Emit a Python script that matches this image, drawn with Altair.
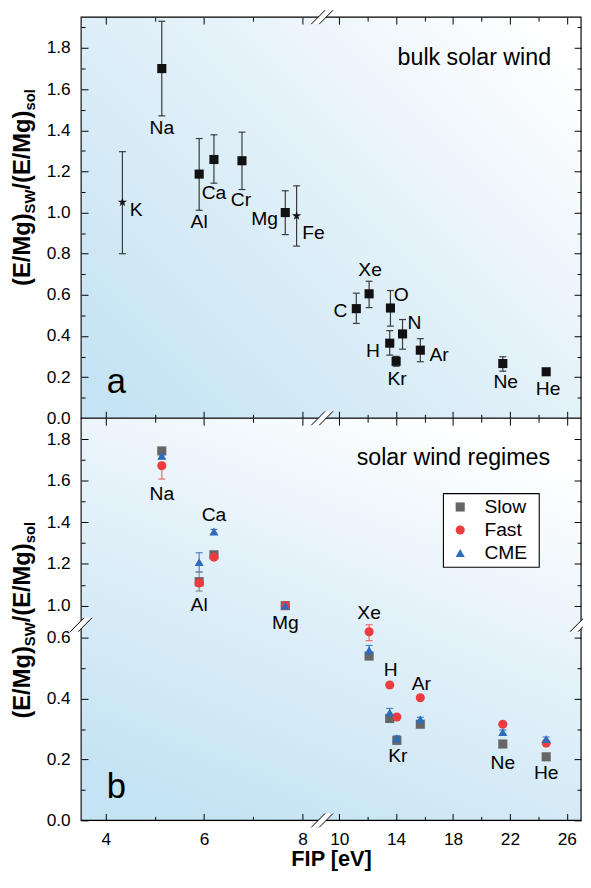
import altair as alt
import pandas as pd

FONT = "Liberation Sans"

# ---------------- panel a: bulk solar wind ----------------
A_ELEMENT = ["K", "Na", "Al", "Ca", "Cr", "Mg", "Fe", "C", "Xe", "O", "H", "Kr", "N", "Ar", "Ne", "He"]
A_FIP = [4.34, 5.14, 5.90, 6.20, 6.77, 7.65, 7.88, 11.20, 12.10, 13.60, 13.55, 14.00, 14.45, 15.70, 21.50, 24.55]
A_RATIO = [1.050, 1.700, 1.187, 1.258, 1.252, 1.000, 0.984, 0.533, 0.605, 0.536, 0.365, 0.277, 0.410, 0.331, 0.266, 0.226]
A_LOW = [0.800, 1.470, 1.011, 1.143, 1.112, 0.893, 0.837, 0.461, 0.538, 0.448, 0.307, 0.253, 0.336, 0.275, 0.229, 0.226]
A_HIGH = [1.296, 1.930, 1.360, 1.378, 1.391, 1.106, 1.130, 0.608, 0.666, 0.621, 0.426, 0.301, 0.480, 0.387, 0.299, 0.226]
A_STAR = ["K", "Fe"]

# ---------------- panel b: solar wind regimes ----------------
B_ELEMENT = ["Na", "Al", "Ca", "Mg", "Xe", "H", "Kr", "Ar", "Ne", "He"]
B_FIP = [5.14, 5.90, 6.20, 7.65, 12.10, 13.55, 14.05, 15.70, 21.50, 24.55]
REGIMES = ["Slow", "Fast", "CME"]
SLOW = [1.743, 1.115, 1.244, 1.000, 0.540, 0.335, 0.263, 0.316, 0.251, 0.209]
SLOW_LOW = [1.728, 1.070, 1.233, 0.990, 0.530, 0.326, 0.256, 0.309, 0.245, 0.203]
SLOW_HIGH = [1.758, 1.160, 1.256, 1.010, 0.550, 0.344, 0.270, 0.323, 0.257, 0.215]
FAST = [1.672, 1.109, 1.233, 1.000, 0.620, 0.445, 0.340, 0.403, 0.316, 0.254]
FAST_LOW = [1.608, 1.093, 1.222, 0.990, 0.591, 0.440, 0.335, 0.398, 0.311, 0.249]
FAST_HIGH = [1.685, 1.131, 1.244, 1.010, 0.643, 0.450, 0.345, 0.408, 0.321, 0.259]
CME = [1.720, 1.209, 1.356, 1.000, 0.559, 0.354, 0.270, 0.332, 0.290, 0.267]
CME_LOW = [1.705, 1.162, 1.346, 0.990, 0.545, 0.345, 0.262, 0.325, 0.283, 0.260]
CME_HIGH = [1.735, 1.254, 1.366, 1.010, 0.575, 0.368, 0.278, 0.339, 0.297, 0.274]

# ---------------- axes ----------------
X_TICKS = [4, 5, 6, 7, 8, 10, 12, 14, 16, 18, 20, 22, 24, 26]
YA_TICKS = [0.0, 0.1, 0.2, 0.3, 0.4, 0.5, 0.6, 0.7, 0.8, 0.9, 1.0,
            1.1, 1.2, 1.3, 1.4, 1.5, 1.6, 1.7, 1.8, 1.9]
YB_TICKS = [0.0, 0.1, 0.2, 0.3, 0.4, 0.5, 0.6,
            1.0, 1.1, 1.2, 1.3, 1.4, 1.5, 1.6, 1.7, 1.8]
X_MINOR_TEST = "indexof([5,7,12,16,20,24], datum.value) >= 0"
Y_MINOR_TEST = "round(datum.value*10) % 2 == 1"
X_LABEL_EXPR = X_MINOR_TEST + " ? '' : datum.label"
Y_LABEL_EXPR = Y_MINOR_TEST + " ? '' : format(datum.value, '.1f')"

# label offsets in pixels (layout only)
LABEL_A = {"K": (14, 8), "Na": (0, 60), "Al": (0, 49), "Ca": (0, 34), "Cr": (-1, 40),
           "Mg": (-21, 7), "Fe": (17, 17), "C": (-16, 2), "Xe": (1, -24), "O": (11, -13),
           "H": (-17, 8), "Kr": (1, 18), "N": (12, -11), "Ar": (19, 5), "Ne": (3, 19), "He": (2, 18)}
LABEL_B = {"Na": (0, 44), "Al": (0, 24), "Ca": (0, -40), "Mg": (0, 18), "Xe": (0, -44),
           "H": (1, -49), "Kr": (1, 16), "Ar": (1, -41), "Ne": (0, 19), "He": (0, 16)}

W = 506
HA = 406
HB = 407
X_SCALE = alt.Scale(domain=[3.5, 8.4, 8.8, 27.0], range=[0, 244, 244, W], nice=False, zero=False)
YA_SCALE = alt.Scale(domain=[0, 1.95], nice=False, zero=False)
YB_SCALE = alt.Scale(domain=[0, 0.643, 0.908, 1.90], range=[HB, 209, 209, 0], nice=False, zero=False)

BREAK_FIP = 8.6
BREAK_RATIO = 0.8

REGIME_COLORS = ["#666666", "#ee3b3f", "#2d6cbd"]
REGIME_SHAPES = ["square", "circle", "triangle-up"]
ERR_COLORS = ["#8a8a8a", "#f06a6a", "#4a80c8"]
STAR = "M0,-1L0.225,-0.309L0.951,-0.309L0.363,0.118L0.588,0.809L0,0.382L-0.588,0.809L-0.363,0.118L-0.951,-0.309L-0.225,-0.309Z"
SLASH = "M-1,0.64L0.27,-0.64M-0.27,0.64L1,-0.64"
GAP = "M-1,0.64L0.27,-0.64L1,-0.64L-0.27,0.64Z"

ONE = pd.DataFrame({"k": [0]})


def make_axis(orient, values, minor_test, labels, label_expr=None, title=None, label_pad=18):
    kw = dict(orient=orient, values=values, labels=labels, title=title, grid=False, domain=False,
              ticks=True, tickColor="black", tickWidth=1, tickSize=alt.ExprRef(expr="-7"),
              tickDash={"condition": {"test": minor_test, "value": [4, 40]}, "value": [40, 0]},
              zindex=1, minExtent=0)
    if labels:
        kw.update(labelExpr=label_expr, labelFont=FONT, labelFontSize=17.5, labelColor="black",
                  labelPadding=label_pad, labelFlush=False, labelOverlap=False, labelBound=False)
    if title:
        kw.update(titleFont=FONT, titleFontSize=22, titleFontWeight="bold", titleColor="black",
                  titlePadding=1)
    return alt.Axis(**kw)


def gradient(x1, y1, x2, y2):
    return alt.LinearGradient(
        gradient="linear",
        stops=[alt.GradientStop(offset=0, color="#c4e3f3"),
               alt.GradientStop(offset=0.55, color="#e3f1f9"),
               alt.GradientStop(offset=1, color="#ffffff")],
        x1=x1, y1=y1, x2=x2, y2=y2)


def box(fill, x, x2, y, y2):
    return alt.Chart(ONE).mark_rect(fill=fill, stroke="black", strokeWidth=1.1).encode(
        x=alt.value(x), x2=alt.value(x2), y=alt.value(y), y2=alt.value(y2))


def breaks(df, yscale):
    enc = dict(x=alt.X("bx:Q", scale=X_SCALE, axis=None), y=alt.Y("by:Q", scale=yscale, axis=None))
    gap = alt.Chart(df).mark_point(shape=GAP, size=484, filled=True, fill="white",
                                   strokeWidth=0, opacity=1).encode(**enc)
    slash = alt.Chart(df).mark_point(shape=SLASH, size=484, filled=False, stroke="black",
                                     strokeWidth=1, opacity=1).encode(**enc)
    return [gap, slash]


def y_title(y0):
    parts = [("(E/Mg)", 24, -52, 3.055), ("SW", 15, -47, 1.611),
             ("/(E/Mg)", 24, -52, 3.333), ("sol", 15, -47, 1.445)]
    layers = []
    y = y0
    for text, size, xb, em in parts:
        layers.append(alt.Chart(ONE).mark_text(
            text=text, font=FONT, fontSize=size, fontWeight="bold", angle=270, align="left",
            baseline="alphabetic", color="black").encode(x=alt.value(xb), y=alt.value(y)))
        y -= em * size
    return layers


def deco_text(text, x, y, size, align, baseline="alphabetic"):
    return alt.Chart(ONE).mark_text(text=text, font=FONT, fontSize=size, align=align,
                                    baseline=baseline, color="black").encode(
        x=alt.value(x), y=alt.value(y))


def legend_layers(x0, y0):
    layers = [box("white", x0, x0 + 97, y0, y0 + 74.5)]
    for i, (reg, col, shp) in enumerate(zip(REGIMES, REGIME_COLORS, REGIME_SHAPES)):
        yy = y0 + 13.5 + i * 23.3
        layers.append(alt.Chart(ONE).mark_point(shape=shp, filled=True, size=85, color=col, opacity=1)
                      .encode(x=alt.value(x0 + 17), y=alt.value(yy)))
        layers.append(deco_text(reg, x0 + 41.5, yy, 19.5, "left", "middle"))
    return layers


# ================= panel a =================
df_a = pd.DataFrame({"element": A_ELEMENT, "fip": A_FIP, "ratio": A_RATIO,
                     "low": A_LOW, "high": A_HIGH})
df_a["star"] = df_a["element"].isin(A_STAR)
base_a = alt.Chart(df_a)
xa_none = alt.X("fip:Q", scale=X_SCALE, axis=None)

rules_a = base_a.mark_rule(color="#3a3a3a", strokeWidth=1.2).encode(
    x=alt.X("fip:Q", scale=X_SCALE, axis=make_axis("top", X_TICKS, X_MINOR_TEST, False)),
    y=alt.Y("low:Q", scale=YA_SCALE, axis=make_axis("right", YA_TICKS, Y_MINOR_TEST, False)),
    y2="high:Q")
cap_lo_a = base_a.mark_tick(orient="horizontal", size=7, thickness=1.2, color="#3a3a3a", opacity=1).encode(
    x=xa_none, y=alt.Y("low:Q", scale=YA_SCALE, axis=None))
cap_hi_a = base_a.mark_tick(orient="horizontal", size=7, thickness=1.2, color="#3a3a3a", opacity=1).encode(
    x=xa_none, y=alt.Y("high:Q", scale=YA_SCALE, axis=None))
squares_a = base_a.transform_filter("!datum.star").mark_point(
    shape="square", filled=True, size=85, color="#111111", opacity=1).encode(
    x=alt.X("fip:Q", scale=X_SCALE, axis=make_axis("bottom", X_TICKS, X_MINOR_TEST, False)),
    y=alt.Y("ratio:Q", scale=YA_SCALE,
            axis=make_axis("left", YA_TICKS, Y_MINOR_TEST, True, Y_LABEL_EXPR)))
stars_a = base_a.transform_filter("datum.star").mark_point(
    shape=STAR, filled=True, size=95, color="#111111", opacity=1).encode(
    x=xa_none, y=alt.Y("ratio:Q", scale=YA_SCALE, axis=None))
labels_a = [
    base_a.transform_filter(alt.datum.element == el).mark_text(
        dx=dx, dy=dy, font=FONT, fontSize=19.5, color="black", align="center", baseline="middle").encode(
        x=xa_none, y=alt.Y("ratio:Q", scale=YA_SCALE, axis=None), text="element:N")
    for el, (dx, dy) in LABEL_A.items()
]
breaks_a = breaks(pd.DataFrame({"bx": [BREAK_FIP], "by": [1.95]}), YA_SCALE)

panel_a = alt.layer(
    box(gradient(0, 0.9, 1, 0.1), 0, "width", 0, "height"), *breaks_a, rules_a, cap_lo_a, cap_hi_a,
    squares_a, stars_a, *labels_a,
    deco_text("bulk solar wind", 475.7, 48.3, 23.5, "right"),
    deco_text("a", 35.7, 380, 35, "center"),
    *y_title(272),
).resolve_axis(x="independent", y="independent").properties(width=W, height=HA)

# ================= panel b =================
rows = []
for reg, vals, lows, highs in [("Slow", SLOW, SLOW_LOW, SLOW_HIGH),
                               ("Fast", FAST, FAST_LOW, FAST_HIGH),
                               ("CME", CME, CME_LOW, CME_HIGH)]:
    for el, f, v, lo, hi in zip(B_ELEMENT, B_FIP, vals, lows, highs):
        rows.append({"element": el, "fip": f, "regime": reg, "ratio": v, "low": lo, "high": hi})
df_b = pd.DataFrame(rows)
base_b = alt.Chart(df_b)
err_scale = alt.Scale(domain=REGIMES, range=ERR_COLORS)

rules_b = base_b.mark_rule(strokeWidth=1.2).encode(
    x=alt.X("fip:Q", scale=X_SCALE, axis=make_axis("top", X_TICKS, X_MINOR_TEST, False)),
    y=alt.Y("low:Q", scale=YB_SCALE, axis=make_axis("right", YB_TICKS, Y_MINOR_TEST, False)),
    y2="high:Q",
    stroke=alt.Stroke("regime:N", scale=err_scale, legend=None))
cap_lo_b = base_b.mark_tick(orient="horizontal", size=7, thickness=1.2, opacity=1).encode(
    x=xa_none, y=alt.Y("low:Q", scale=YB_SCALE, axis=None),
    fill=alt.Fill("regime:N", scale=err_scale, legend=None))
cap_hi_b = base_b.mark_tick(orient="horizontal", size=7, thickness=1.2, opacity=1).encode(
    x=xa_none, y=alt.Y("high:Q", scale=YB_SCALE, axis=None),
    fill=alt.Fill("regime:N", scale=err_scale, legend=None))

points_b = base_b.mark_point(filled=True, size=85, opacity=1).encode(
    x=alt.X("fip:Q", scale=X_SCALE,
            axis=make_axis("bottom", X_TICKS, X_MINOR_TEST, True, X_LABEL_EXPR, "FIP [eV]", label_pad=17)),
    y=alt.Y("ratio:Q", scale=YB_SCALE,
            axis=make_axis("left", YB_TICKS, Y_MINOR_TEST, True, Y_LABEL_EXPR)),
    color=alt.Color("regime:N", scale=alt.Scale(domain=REGIMES, range=REGIME_COLORS), legend=None),
    shape=alt.Shape("regime:N", scale=alt.Scale(domain=REGIMES, range=REGIME_SHAPES), legend=None))

df_b_lab = pd.DataFrame({"element": B_ELEMENT, "fip": B_FIP, "ratio": SLOW})
labels_b = [
    alt.Chart(df_b_lab).transform_filter(alt.datum.element == el).mark_text(
        dx=dx, dy=dy, font=FONT, fontSize=19.5, color="black", align="center", baseline="middle").encode(
        x=xa_none, y=alt.Y("ratio:Q", scale=YB_SCALE, axis=None), text="element:N")
    for el, (dx, dy) in LABEL_B.items()
]
breaks_b = breaks(pd.DataFrame({"bx": [BREAK_FIP, BREAK_FIP, 3.5, 27.0],
                                "by": [1.90, 0.0, BREAK_RATIO, BREAK_RATIO]}), YB_SCALE)

panel_b = alt.layer(
    box(gradient(0.25, 1, 0.75, 0), 0, "width", 0, "height"), *breaks_b, rules_b, cap_lo_b, cap_hi_b,
    points_b, *labels_b,
    deco_text("solar wind regimes", 474.7, 47.3, 23.5, "right"),
    deco_text("b", 35.7, 384, 35, "center"),
    *legend_layers(366.7, 76.3),
    *y_title(304),
).resolve_axis(x="independent", y="independent").properties(width=W, height=HB)

chart = alt.vconcat(panel_a, panel_b, spacing=0, bounds="flush").properties(
    padding={"left": 2, "top": -6, "right": -12, "bottom": -2}
).configure_view(stroke=None).configure(background="white")

chart.save("out.html", embed_options={"renderer": "svg", "actions": False})
